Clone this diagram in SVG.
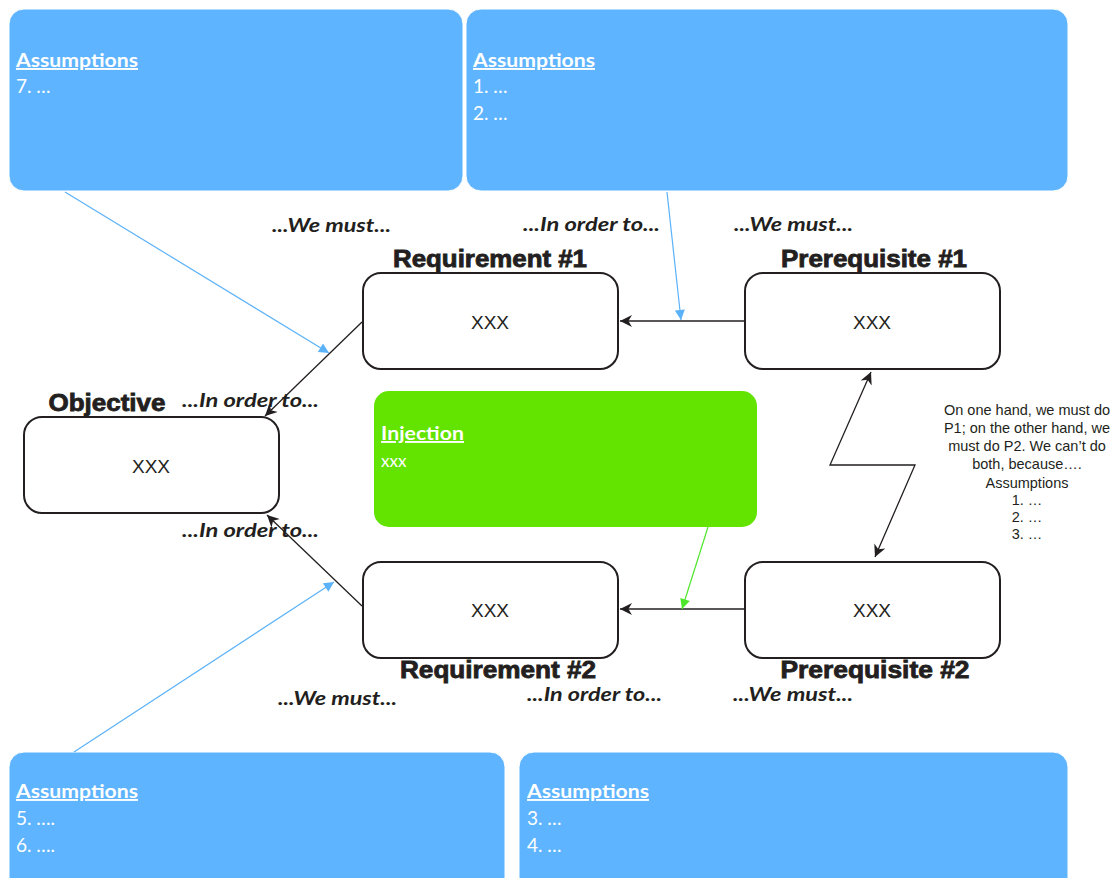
<svg xmlns="http://www.w3.org/2000/svg" width="1120" height="878" viewBox="0 0 1120 878">
<defs>
<style>
.asm{fill:#5eb4fe;stroke:#ffffff;stroke-width:1}
.asmT{font-family:Lato,"Open Sans","Liberation Sans",sans-serif;font-size:19px;fill:#ffffff}
.asmH{font-weight:bold;text-decoration:underline}
.node{fill:#ffffff;stroke:#231f20;stroke-width:2}
.nodeT{font-family:"Liberation Sans",Arial,sans-serif;font-size:19px;fill:#231f20;text-anchor:middle}
.lbl{font-family:"Liberation Sans",Arial,sans-serif;font-size:23px;font-weight:bold;fill:#231f20;stroke:#231f20;stroke-width:0.8;text-anchor:middle}
.ital{font-family:Lato,"Open Sans","Liberation Sans",sans-serif;font-size:19px;font-weight:bold;font-style:italic;fill:#231f20}
.note{font-family:"Liberation Sans",Arial,sans-serif;font-size:14.5px;fill:#231f20;text-anchor:middle}
.blk{stroke:#231f20;stroke-width:1.3;fill:none}
.blu{stroke:#5cb2f8;stroke-width:1.2;fill:none}
.grn{stroke:#4ee62a;stroke-width:1.2;fill:none}
</style>
<marker id="ab" viewBox="0 0 10 10" refX="10" refY="5" markerWidth="14" markerHeight="12" markerUnits="userSpaceOnUse" orient="auto-start-reverse">
<path d="M0,0 L10,5 L0,10 L3,5 z" fill="#231f20"/>
</marker>
<marker id="abl" viewBox="0 0 10 10" refX="10" refY="5" markerWidth="12" markerHeight="10" markerUnits="userSpaceOnUse" orient="auto">
<path d="M0,0 L10,5 L0,10 z" fill="#5cb2f8"/>
</marker>
<marker id="agr" viewBox="0 0 10 10" refX="10" refY="5" markerWidth="12" markerHeight="10" markerUnits="userSpaceOnUse" orient="auto">
<path d="M0,0 L10,5 L0,10 z" fill="#4ee62a"/>
</marker>
</defs>
<rect width="1120" height="878" fill="#ffffff"/>

<g id="assumptions-7">
<rect class="asm" x="9" y="9" width="454" height="182" rx="15"/>
<text class="asmT asmH" x="16" y="67" textLength="122" lengthAdjust="spacingAndGlyphs">Assumptions</text>
<text class="asmT" x="16" y="93">7. …</text>
</g>
<g id="assumptions-1-2">
<rect class="asm" x="466" y="9" width="602" height="182" rx="15"/>
<text class="asmT asmH" x="473" y="67" textLength="122" lengthAdjust="spacingAndGlyphs">Assumptions</text>
<text class="asmT" x="473" y="93">1. …</text>
<text class="asmT" x="473" y="120">2. …</text>
</g>
<g id="assumptions-5-6">
<rect class="asm" x="9" y="752" width="496" height="150" rx="15"/>
<text class="asmT asmH" x="16" y="798" textLength="122" lengthAdjust="spacingAndGlyphs">Assumptions</text>
<text class="asmT" x="16" y="825">5. ….</text>
<text class="asmT" x="16" y="852">6. ….</text>
</g>
<g id="assumptions-3-4">
<rect class="asm" x="519" y="752" width="549" height="150" rx="15"/>
<text class="asmT asmH" x="527" y="798" textLength="122" lengthAdjust="spacingAndGlyphs">Assumptions</text>
<text class="asmT" x="527" y="825">3. …</text>
<text class="asmT" x="527" y="852">4. …</text>
</g>

<g id="injection">
<rect x="374" y="391" width="383" height="136" rx="15" fill="#62e300"/>
<text class="asmT asmH" x="381" y="440" textLength="83" lengthAdjust="spacingAndGlyphs">Injection</text>
<text class="asmT" x="381" y="467" style="font-size:17px">xxx</text>
</g>

<g id="requirement-1">
<text class="lbl" x="490" y="267" textLength="194" lengthAdjust="spacingAndGlyphs">Requirement #1</text>
<rect class="node" x="363" y="273" width="255" height="96" rx="18"/>
<text class="nodeT" x="490" y="329">XXX</text>
</g>
<g id="prerequisite-1">
<text class="lbl" x="874" y="267" textLength="186" lengthAdjust="spacingAndGlyphs">Prerequisite #1</text>
<rect class="node" x="745" y="273" width="255" height="96" rx="18"/>
<text class="nodeT" x="872" y="329">XXX</text>
</g>
<g id="objective">
<text class="lbl" x="107" y="411" textLength="117" lengthAdjust="spacingAndGlyphs">Objective</text>
<rect class="node" x="24" y="417" width="255" height="96" rx="18"/>
<text class="nodeT" x="151" y="473">XXX</text>
</g>
<g id="requirement-2">
<rect class="node" x="363" y="562" width="255" height="96" rx="18"/>
<text class="nodeT" x="490" y="617">XXX</text>
<text class="lbl" x="498" y="678" textLength="196" lengthAdjust="spacingAndGlyphs">Requirement #2</text>
</g>
<g id="prerequisite-2">
<rect class="node" x="745" y="562" width="255" height="96" rx="18"/>
<text class="nodeT" x="872" y="617">XXX</text>
<text class="lbl" x="875" y="678" textLength="189" lengthAdjust="spacingAndGlyphs">Prerequisite #2</text>
</g>

<g id="labels">
<text class="ital" x="272" y="232" textLength="119" lengthAdjust="spacingAndGlyphs">...We must...</text>
<text class="ital" x="523" y="231" textLength="137" lengthAdjust="spacingAndGlyphs">...In order to...</text>
<text class="ital" x="734" y="231" textLength="119" lengthAdjust="spacingAndGlyphs">...We must...</text>
<text class="ital" x="182" y="407" textLength="137" lengthAdjust="spacingAndGlyphs">...In order to...</text>
<text class="ital" x="182" y="537" textLength="137" lengthAdjust="spacingAndGlyphs">...In order to...</text>
<text class="ital" x="278" y="705" textLength="119" lengthAdjust="spacingAndGlyphs">...We must...</text>
<text class="ital" x="527" y="701" textLength="135" lengthAdjust="spacingAndGlyphs">...In order to...</text>
<text class="ital" x="733" y="701" textLength="120" lengthAdjust="spacingAndGlyphs">...We must...</text>
</g>

<g id="conflict-note">
<text class="note" x="1027" y="415">On one hand, we must do</text>
<text class="note" x="1027" y="433">P1; on the other hand, we</text>
<text class="note" x="1027" y="451">must do P2. We can’t do</text>
<text class="note" x="1027" y="469">both, because….</text>
<text class="note" x="1027" y="488">Assumptions</text>
<text class="note" x="1027" y="505">1. …</text>
<text class="note" x="1027" y="522">2. …</text>
<text class="note" x="1027" y="539">3. …</text>
</g>

<g id="connectors">
<line class="blk" x1="745" y1="321" x2="620" y2="321" marker-end="url(#ab)"/>
<line class="blk" x1="745" y1="609" x2="620" y2="609" marker-end="url(#ab)"/>
<line class="blk" x1="362" y1="322" x2="265" y2="416" marker-end="url(#ab)"/>
<line class="blk" x1="362" y1="606" x2="267" y2="515" marker-end="url(#ab)"/>
<polyline class="blk" points="871,372 830,465 915,465 875,557" marker-start="url(#ab)" marker-end="url(#ab)"/>
<line class="blu" x1="65" y1="192" x2="329" y2="353" marker-end="url(#abl)"/>
<line class="blu" x1="667" y1="192" x2="681" y2="320" marker-end="url(#abl)"/>
<line class="blu" x1="74" y1="752" x2="334" y2="582" marker-end="url(#abl)"/>
<line class="grn" x1="708" y1="527" x2="682" y2="609" marker-end="url(#agr)"/>
</g>
</svg>
